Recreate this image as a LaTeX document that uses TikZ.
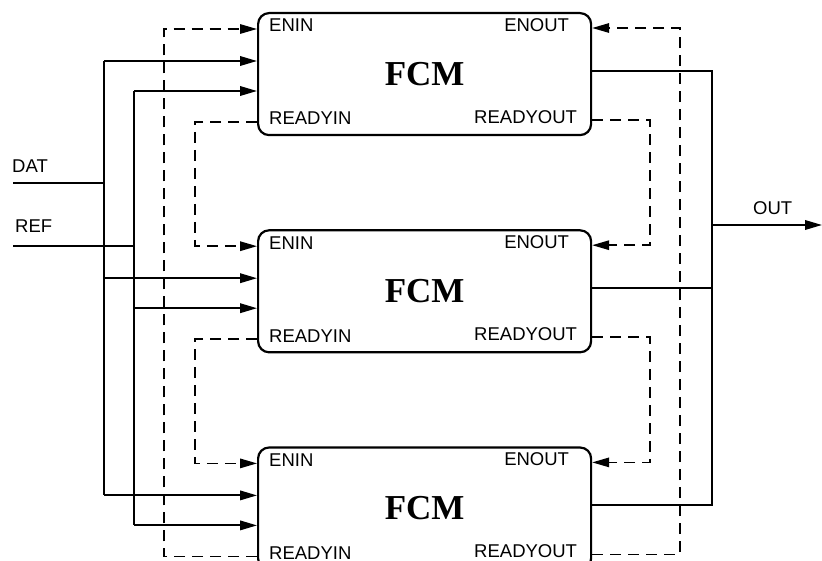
\documentclass[tikz,border=0pt]{standalone}
\usepackage{fontspec}
\setmainfont{Liberation Serif}
\setsansfont{Liberation Sans}
\usetikzlibrary{positioning, arrows.meta, calc}

\begin{document}
\begin{tikzpicture}[x=1pt, y=1pt, node distance=93pt,
    >={Triangle[length=17pt, width=9.5pt]},
    fcm/.style={draw, line width=2.2pt, rounded corners=11pt, minimum width=333pt,
        minimum height=122pt, inner sep=0pt, font=\fontsize{35}{40}\selectfont\bfseries},
    port/.style={inner sep=0pt, font=\fontsize{18.5}{22}\selectfont\sffamily},
    wire/.style={line width=1.9pt},
    hand/.style={line width=1.5pt, dash pattern=on 11pt off 7pt}]
    \useasboundingbox (0,0) rectangle (822,-561);

    % Modules
    \node[fcm, anchor=north west] (fcm1) at (257,-12) {FCM};
    \node[fcm, below=of fcm1] (fcm2) {FCM};
    \node[fcm, below=of fcm2] (fcm3) {FCM};

    % Ports
    \foreach \b in {1,2,3} {
        \coordinate (enin\b) at ([yshift=-17pt]fcm\b.north west);
        \coordinate (dat\b) at ([yshift=-49pt]fcm\b.north west);
        \coordinate (ref\b) at ([yshift=-79pt]fcm\b.north west);
        \coordinate (rdyin\b) at ([yshift=-110pt]fcm\b.north west);
        \coordinate (enout\b) at ([yshift=-16pt]fcm\b.north east);
        \coordinate (out\b) at ([yshift=-59pt]fcm\b.north east);
        \coordinate (rdyout\b) at ([yshift=-108pt]fcm\b.north east);
        \node[port, anchor=west] (l-enin\b) at ([xshift=12pt, yshift=3.5pt]enin\b) {ENIN};
        \node[port, anchor=west] (l-rdyin\b) at ([xshift=12pt, yshift=3.5pt]rdyin\b) {READYIN};
        \node[port, anchor=east] (l-enout\b) at ([xshift=-23pt, yshift=3pt]enout\b) {ENOUT};
        \node[port, anchor=east] (l-rdyout\b) at ([xshift=-15pt, yshift=3pt]rdyout\b) {READYOUT};
    }

    % Bus positions
    \coordinate (datx) at (104,0);
    \coordinate (refx) at (134,0);
    \coordinate (loopx) at (164,0);
    \coordinate (chainx) at (195,0);
    \coordinate (chainoutx) at (650,0);
    \coordinate (loopoutx) at (680,0);
    \coordinate (outx) at (712,0);

    % Inputs and output
    \coordinate (datin) at (13,-183);
    \coordinate (refin) at (13,-246);
    \coordinate (outend) at (822,-225);
    \node[port, anchor=south west] (datlbl) at (12,-173) {DAT};
    \node[port, anchor=south west] (reflbl) at (15,-233) {REF};
    \node[port, anchor=south west] (outlbl) at (753,-215) {OUT};

    % Data lines
    \draw[wire] (datin) -- (datx |- datin);
    \draw[wire] (refin) -- (refx |- refin);
    \draw[wire] (datx |- dat1) -- (datx |- dat3);
    \draw[wire] (refx |- ref1) -- (refx |- ref3);
    \foreach \b in {1,2,3} {
        \draw[wire, ->] (datx |- dat\b) -- (dat\b);
        \draw[wire, ->] (refx |- ref\b) -- (ref\b);
    }

    % Handshake chain
    \draw[hand, ->] (rdyin1) -| (chainx |- enin2) -- (enin2);
    \draw[hand, ->] (rdyin2) -| (chainx |- enin3) -- (enin3);
    \draw[hand, ->] (rdyin3) -| (loopx |- enin1) -- (enin1);
    \draw[hand, ->] (rdyout1) -| (chainoutx |- enout2) -- (enout2);
    \draw[hand, ->] (rdyout2) -| (chainoutx |- enout3) -- (enout3);
    \draw[hand, ->] (rdyout3) -| (loopoutx |- enout1) -- (enout1);

    % Output bus
    \draw[wire] (out1) -| (outx |- out3) -- (out3);
    \draw[wire] (out2) -- (outx |- out2);
    \draw[wire, ->] (outx |- outend) -- (outend);
\end{tikzpicture}
\end{document}
